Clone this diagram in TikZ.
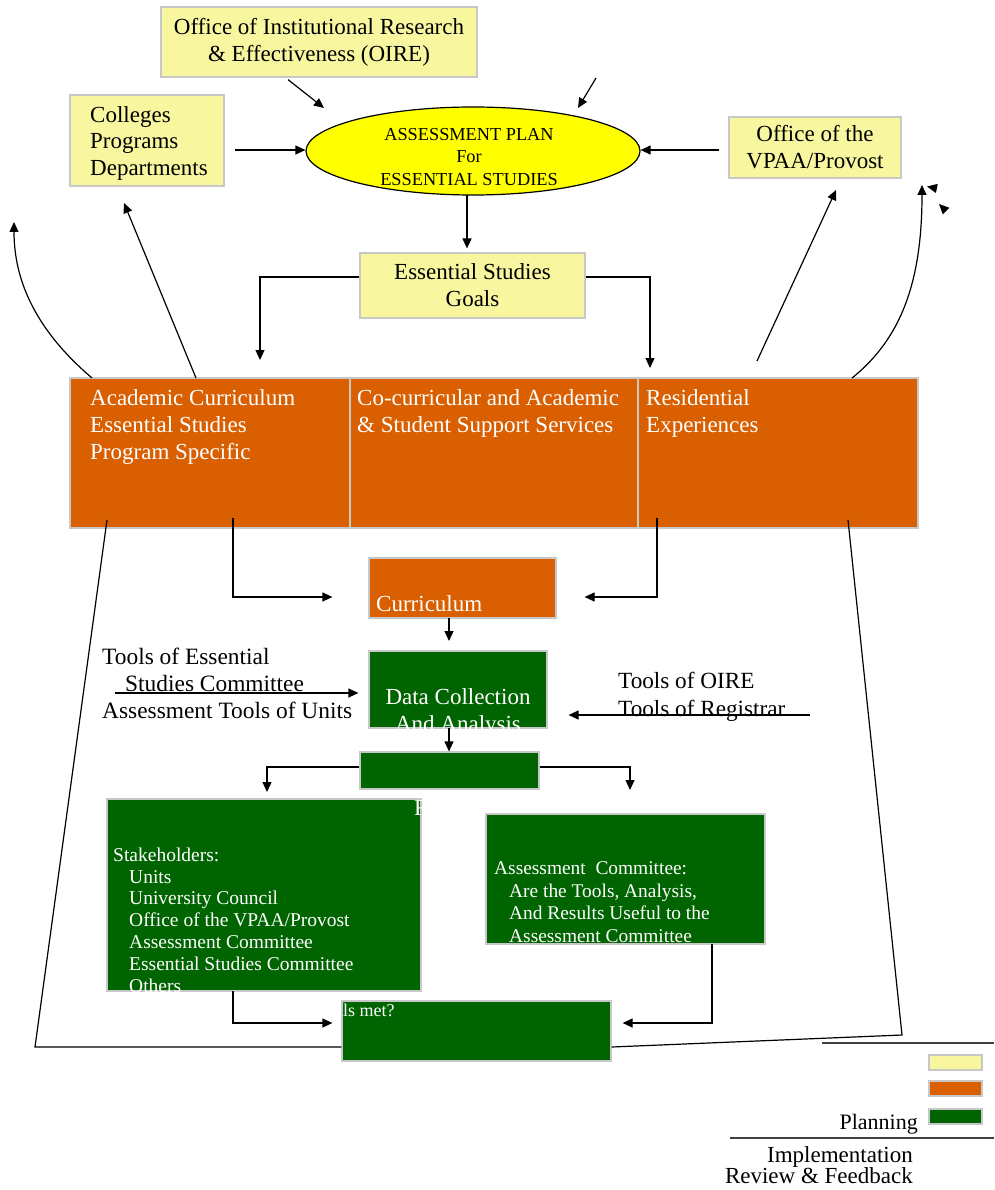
\documentclass[tikz,border=0pt]{standalone}
\usepackage{fontspec}
\setmainfont{Liberation Serif}
\usetikzlibrary{arrows.meta,shapes.geometric,calc}
\definecolor{ylw}{RGB}{248,247,160}
\definecolor{ylwell}{RGB}{255,255,0}
\definecolor{orng}{RGB}{217,95,0}
\definecolor{grn}{RGB}{0,100,0}
\definecolor{bordc}{RGB}{200,200,200}
\newcommand\fA{\fontsize{23}{27}\selectfont}
\newcommand\fB{\fontsize{19.5}{21.8}\selectfont}
\newcommand\fC{\fontsize{18.3}{22.5}\selectfont}
\begin{document}
\begin{tikzpicture}[x=1pt,y=-1pt,
  box/.style={rectangle,draw=bordc,line width=1.2pt,inner sep=0pt},
  ybox/.style={box,fill=ylw,font=\fA,align=center},
  obox/.style={box,fill=orng},
  gbox/.style={box,fill=grn},
  wtxt/.style={inner sep=0pt,anchor=north west,align=left,text=white},
  btxt/.style={inner sep=0pt,anchor=north west,align=left,text=black},
  conn/.style={line width=1.2pt,draw=black},
  arr/.style={conn,-{Triangle[length=10pt,width=9pt]}}]
\useasboundingbox (0,0) rectangle (994,1190);
% ---------- top yellow boxes ----------
\node[ybox,minimum width=316,minimum height=70] (oire) at (319,42) {Office of Institutional Research\\\& Effectiveness (OIRE)};
\node[ybox,minimum width=154,minimum height=91] (colleges) at (147,140.5) {};
\node[btxt,font=\fontsize{23}{26.5}\selectfont] (collegestxt) at (90,106) {Colleges\\Programs\\Departments};
\node[ybox,minimum width=172,minimum height=61] (vpaa) at (815,147.5) {Office of the\\VPAA/Provost};
\node[ellipse,draw=black,line width=1.2pt,fill=ylwell,minimum width=334,minimum height=88,inner sep=0pt] (plan) at (473,151) {};
\node[inner sep=0pt,align=center,font=\fC] (plantxt) at (469,157) {ASSESSMENT PLAN\\For\\ESSENTIAL STUDIES};
\node[ybox,minimum width=225,minimum height=65] (goals) at (472.5,285.5) {Essential Studies\\Goals};
% ---------- orange boxes ----------
\node[obox,minimum width=280,minimum height=150] (acad) at (210,453) {};
\node[obox,minimum width=288,minimum height=150] (cocur) at (494,453) {};
\node[obox,minimum width=280,minimum height=150] (resid) at (778,453) {};
\node[wtxt,font=\fA] (acadtxt) at (90,389) {Academic Curriculum\\Essential Studies\\Program Specific};
\node[wtxt,font=\fA] (cocurtxt) at (357,389) {Co-curricular and Academic\\\& Student Support Services};
\node[wtxt,font=\fA] (residtxt) at (646,389) {Residential\\Experiences};
\node[obox,minimum width=187,minimum height=60] (curr) at (462.5,588) {};
\node[wtxt,font=\fA] (currtxt) at (376,595) {Curriculum};
% ---------- green boxes ----------
\node[gbox,minimum width=178,minimum height=77] (data) at (458,689.5) {};
\begin{scope}
\clip (data.south west) rectangle (data.north east);
\node[inner sep=0pt,anchor=north,align=center,text=white,font=\fA] (datatxt) at (458,688) {Data Collection\\And Analysis};
\end{scope}
\node[gbox,minimum width=179,minimum height=37] (bar) at (449.5,770.5) {};
\node[gbox,minimum width=314,minimum height=192] (stake) at (264,895) {};
\begin{scope}
\clip (stake.south west) rectangle (stake.north east);
\node[wtxt,font=\fA] (rtxt) at (414,800) {R};
\node[wtxt,font=\fB] (staketxt) at (113,847.5) {Stakeholders:\\\hspace{16pt}Units\\\hspace{16pt}University Council\\\hspace{16pt}Office of the VPAA/Provost\\\hspace{16pt}Assessment Committee\\\hspace{16pt}Essential Studies Committee\\\hspace{16pt}Others};
\end{scope}
\node[gbox,minimum width=279,minimum height=130] (ac) at (625.5,879) {};
\begin{scope}
\clip (ac.south west) rectangle (ac.north east);
\node[wtxt,font=\fontsize{19.4}{22.7}\selectfont] (actxt) at (494,861.5) {Assessment\ \ Committee:\\\hspace{15pt}Are the Tools, Analysis,\\\hspace{15pt}And Results Useful to the\\\hspace{15pt}Assessment Committee};
\end{scope}
\node[gbox,minimum width=269,minimum height=60] (met) at (476.5,1031) {};
\node[wtxt,font=\fontsize{18}{20}\selectfont] (mettxt) at (343,1004) {ls met?};
% ---------- side texts ----------
\node[btxt,font=\fontsize{23.4}{27}\selectfont] (toolsl) at (102,648) {Tools of Essential\\\hspace{23pt}Studies Committee\\Assessment Tools of Units};
\node[btxt,font=\fontsize{23.2}{28}\selectfont] (toolsr) at (618,672) {Tools of OIRE\\Tools of Registrar};
% ---------- connectors ----------
\coordinate (free1) at (596,78);
\draw[arr] ($(oire.south)+(-31,2)$) -- (324,108);
\draw[arr] (free1) -- (578,108);
\draw[arr] (colleges.east |- 0,150) ++(10,0) -- (plan.west |- 0,150);
\draw[arr] (vpaa.west |- 0,150) ++(-9,0) -- (plan.east |- 0,150);
\draw[arr] (467,195) -- ($(goals.north)+(-5.5,-4)$);
\draw[arr] (goals.west |- 0,277) -| (260,360);
\draw[arr] (goals.east |- 0,277) -| (650,368);
\draw[arr] (92,378) .. controls (45,338) and (14,290) .. (14,222);
\draw[arr] (196,378) -- (124,203);
\draw[arr] (757,361) -- (836,190);
\draw[arr] (852,378) .. controls (902,338) and (922,280) .. (922,185);
\draw[arr] (937,188.5) -- (927,186.5);
\draw[arr] (946,211) -- (939,204);
\draw[arr] (233,518) |- ($(curr.west)+(-36,9)$);
\draw[arr] (657,518) |- ($(curr.east)+(28,9)$);
\draw[arr] (449,618) -- (449,641);
\draw[arr] (115,693) -- ($(data.west)+(-10,3.5)$);
\draw[arr] (810,715) -- ($(data.east)+(21,25.5)$);
\draw[arr] (449,728) -- (bar.north -| 449,0);
\draw[arr] (bar.west |- 0,767) -| (267,792);
\draw[arr] (bar.east |- 0,767) -| (630,790);
\draw[arr] (233,991) |- ($(met.west)+(-9,-8)$);
\draw[arr] (712,944) |- ($(met.east)+(11,-8)$);
\draw[conn] (107,520) -- (35,1047) -- (met.west |- 0,1047);
\draw[conn] (848,520) -- (902,1035) -- (met.east |- 0,1047);
% ---------- legend ----------
\draw[line width=1.6pt,draw=black!75] (822,1043) -- (994,1043);
\node[box,fill=ylw,minimum width=53,minimum height=15] (legy) at (955.5,1062.5) {};
\node[box,fill=orng,minimum width=53,minimum height=15] (lego) at (955.5,1088.5) {};
\node[box,fill=grn,minimum width=53,minimum height=15] (legg) at (955.5,1116.5) {};
\node[inner sep=0pt,anchor=base east,font=\fontsize{22}{22}\selectfont] (plantext) at (918,1129) {Planning};
\draw[line width=1.6pt,draw=black!75] (730,1138) -- (994,1138);
\node[inner sep=0pt,anchor=base east,font=\fontsize{23}{23}\selectfont] (impl) at (913,1162) {Implementation};
\node[inner sep=0pt,anchor=base east,font=\fontsize{23}{23}\selectfont] (review) at (913,1183) {Review \& Feedback};
\end{tikzpicture}
\end{document}
